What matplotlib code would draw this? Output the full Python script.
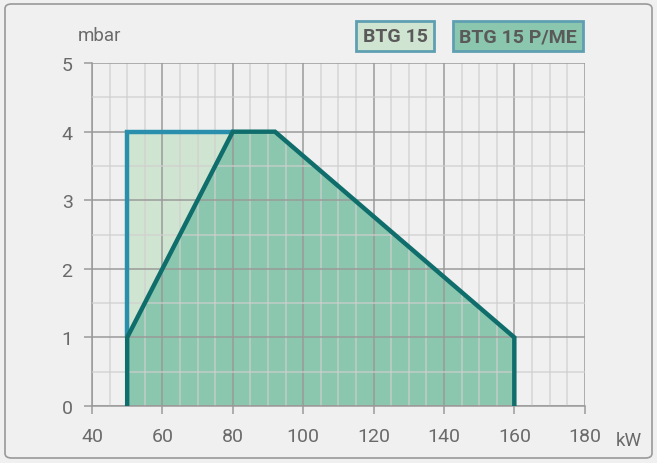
import matplotlib
matplotlib.use("Agg")
import matplotlib.pyplot as plt
from matplotlib.patches import FancyBboxPatch
from matplotlib.ticker import MultipleLocator

# Data
btg15_kw = [50, 50, 92, 160, 160]
btg15_mbar = [0, 4, 4, 1, 0]
btg15pme_kw = [50, 50, 80, 92, 160, 160]
btg15pme_mbar = [0, 1, 4, 4, 1, 0]
btg15_line_kw = [50, 50, 80]
btg15_line_mbar = [1, 4, 4]
x_ticks = [40, 60, 80, 100, 120, 140, 160, 180]
y_ticks = [0, 1, 2, 3, 4, 5]
legend_labels = ["BTG 15", "BTG 15 P/ME"]

bg = "#f0f0f0"
light_fill = "#cfe5d1"
dark_fill = "#8bc6ae"
blue_line = "#2a8fac"
teal_line = "#0f6e6b"
text_col = "#6a6a6a"

plt.rcParams['font.family'] = ['Roboto', 'DejaVu Sans']

fig = plt.figure(figsize=(6.57, 4.64), dpi=100)
fig.patch.set_facecolor(bg)
ax = fig.add_axes([0.140, 0.1228, 0.750, 0.739])
ax.set_facecolor(bg)
ax.set_axisbelow(False)

ax.set_xlim(40, 180)
ax.set_ylim(0, 5)
ax.set_xticks(x_ticks)
ax.set_yticks(y_ticks)
ax.xaxis.set_minor_locator(MultipleLocator(5))
ax.yaxis.set_minor_locator(MultipleLocator(0.5))
ax.grid(which='minor', color='#cfcfcf', linewidth=1.1, alpha=0.8)
ax.grid(which='major', color='#9a9a9a', linewidth=1.1)
ax.tick_params(which='major', direction='out', length=6, width=1.1, color='#9a9a9a',
               labelcolor=text_col, labelsize=14)
ax.tick_params(axis='x', pad=9)
ax.tick_params(axis='y', pad=8)
ax.tick_params(which='minor', length=0)
for s in ['top', 'right']:
    ax.spines[s].set_visible(False)
for s in ['left', 'bottom']:
    ax.spines[s].set_color('#9a9a9a')
    ax.spines[s].set_linewidth(1.1)

ax.fill(btg15_kw, btg15_mbar, color=light_fill, zorder=1, linewidth=0)
ax.fill(btg15pme_kw, btg15pme_mbar, color=dark_fill, zorder=2, linewidth=0)
ax.plot(btg15_line_kw, btg15_line_mbar, color=blue_line, linewidth=3.2, zorder=4,
        solid_capstyle='round', solid_joinstyle='miter')
ax.plot(btg15pme_kw, btg15pme_mbar, color=teal_line, linewidth=3.2, zorder=5,
        solid_capstyle='round', solid_joinstyle='miter')

fig.text(78 / 657, 1 - 36 / 464, "mbar", color=text_col, fontsize=13.5, va='center', ha='left')
fig.text(616 / 657, 1 - 441 / 464, "kW", color=text_col, fontsize=13.5, va='center', ha='left')

fig.text(395 / 657, 1 - 37 / 464, legend_labels[0], color='#5a5a5a', fontsize=14,
         fontweight='bold', ha='center', va='center',
         bbox=dict(boxstyle='square,pad=0.32', facecolor=light_fill, edgecolor='#5f9fb2', linewidth=2))
fig.text(518 / 657, 1 - 37 / 464, legend_labels[1], color='#5a5a5a', fontsize=14,
         fontweight='bold', ha='center', va='center',
         bbox=dict(boxstyle='square,pad=0.32', facecolor=dark_fill, edgecolor='#5f9fb2', linewidth=2))

border = FancyBboxPatch((5 / 657, 5 / 464), 647 / 657, 454 / 464,
                        boxstyle='round,pad=0,rounding_size=0.01', transform=fig.transFigure,
                        facecolor='none', edgecolor='#999999', linewidth=1.2)
fig.patches.append(border)

fig.savefig("out.png", dpi=100, facecolor=bg)
